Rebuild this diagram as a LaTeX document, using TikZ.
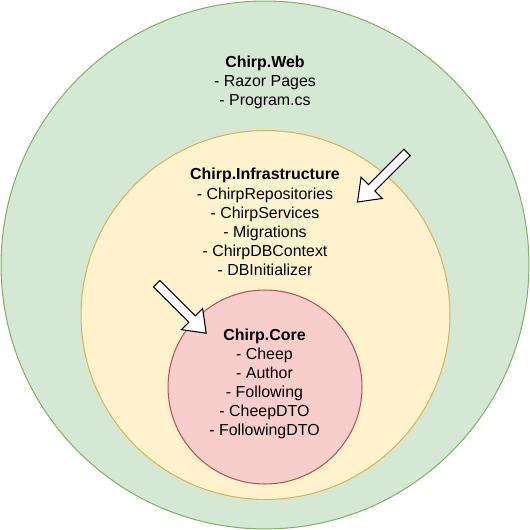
\documentclass[tikz,border=0pt]{standalone}
\usepackage{fontspec}
\setmainfont{Liberation Sans}
\definecolor{webfill}{HTML}{D5E8D4}
\definecolor{webline}{HTML}{82B366}
\definecolor{infrafill}{HTML}{FFF2CC}
\definecolor{infraline}{HTML}{D6B656}
\definecolor{corefill}{HTML}{F8CECC}
\definecolor{coreline}{HTML}{B85450}
\tikzset{
  ring/.style={circle, inner sep=0pt, line width=0.6pt},
  label/.style={align=center, inner sep=0pt, font=\fontsize{9.07pt}{10.88pt}\selectfont, text=black},
  blockarrow/.style={draw=black, fill=white, line width=0.6pt, line join=miter}
}
\newcommand{\blockarrowshape}{(0,-4.5) -- (50,-4.5) -- (50,-15) -- (70,0) -- (50,15) -- (50,4.5) -- (0,4.5) -- cycle}
\begin{document}
\begin{tikzpicture}[x=0.02cm,y=-0.02cm]
\useasboundingbox (0,0) rectangle (530,530);
\node[ring, draw=webline, fill=webfill, minimum size=10.56cm] (web) at (265,265) {};
\node[ring, draw=infraline, fill=infrafill, minimum size=7.38cm] (infra) at (265.5,315) {};
\node[ring, draw=coreline, fill=corefill, minimum size=3.88cm] (core) at (265,387) {};

\node[label] (webtext) at (265,82.5) {\textbf{Chirp.Web}\\- Razor Pages\\- Program.cs};
\node[label] (infratext) at (265,222) {\textbf{Chirp.Infrastructure}\\- ChirpRepositories\\- ChirpServices\\- Migrations\\- ChirpDBContext\\- DBInitializer};
\node[label] (coretext) at (264.5,384) {\textbf{Chirp.Core}\\- Cheep\\- Author\\- Following\\- CheepDTO\\- FollowingDTO};

\begin{scope}[shift={(407,152.5)}, rotate=-135]
  \draw[blockarrow] \blockarrowshape;
\end{scope}
\begin{scope}[shift={(156.7,283.7)}, rotate=-45]
  \draw[blockarrow] \blockarrowshape;
\end{scope}
\end{tikzpicture}
\end{document}
